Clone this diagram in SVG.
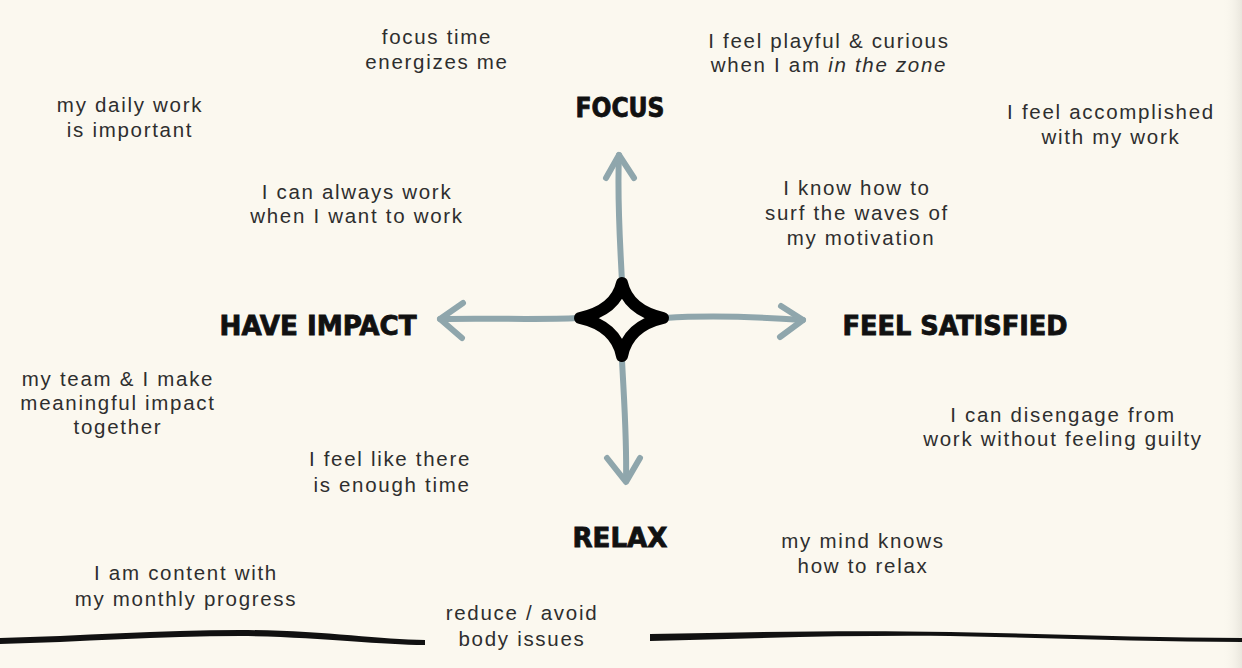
<svg xmlns="http://www.w3.org/2000/svg" width="1242" height="668" viewBox="0 0 1242 668">
<defs>
<style>
.t{font-family:"Liberation Sans",Arial,sans-serif;font-size:20.5px;fill:#2e2e2e;text-anchor:middle;letter-spacing:1.7px}
.h{font-family:"DejaVu Sans Condensed","DejaVu Sans","Liberation Sans",sans-serif;font-weight:bold;font-size:27px;fill:#111;text-anchor:middle;stroke:#111;stroke-width:0.8px}
.arr{fill:none;stroke:#8fa6ac;stroke-width:6;stroke-linecap:round;stroke-linejoin:round}
</style>
<linearGradient id="edge" x1="0" y1="0" x2="1" y2="0">
<stop offset="0" stop-color="#fbf8ef" stop-opacity="0"/>
<stop offset="1" stop-color="#e9e6dd"/>
</linearGradient>
</defs>
<rect width="1242" height="668" fill="#fbf8ef"/>
<rect x="1222" y="0" width="20" height="668" fill="url(#edge)"/>

<g id="connectors">
<path class="arr" d="M622,282 C620,240 617,200 619,155"/>
<path class="arr" d="M606,178 L619,155 L634,178"/>
<path class="arr" d="M665,318 C710,315 760,317 803,320"/>
<path class="arr" d="M781,306 L803,320 L780,337"/>
<path class="arr" d="M622,360 C624,400 627,440 626,480"/>
<path class="arr" d="M607,458 L626,482 L640,458"/>
<path class="arr" d="M578,318 C540,320 490,318 440,319"/>
<path class="arr" d="M463,303 L440,319 L462,338"/>
</g>

<g id="center">
<path d="M622,283 Q628,310 663,318 Q628,326 622,356 Q616,326 580,318 Q616,310 622,283 Z" fill="none" stroke="#000" stroke-width="12" stroke-linejoin="round"/>
</g>

<g id="ground">
<path d="M0,638 C80,636 160,630 240,630 C320,630 380,640 425,640 L425,645 C380,645 320,637 240,636 C160,636 80,642 0,644 Z" fill="#111"/>
<path d="M650,634 C760,632 850,630 950,632 C1050,634 1150,638 1242,638 L1242,642 C1150,642 1050,638 950,636 C850,635 760,638 650,641 Z" fill="#111"/>
</g>

<g id="focus"><text class="h" x="620" y="117" textLength="89" lengthAdjust="spacingAndGlyphs">FOCUS</text></g>
<g id="have-impact"><text class="h" x="318" y="335" textLength="197" lengthAdjust="spacingAndGlyphs">HAVE IMPACT</text></g>
<g id="feel-satisfied"><text class="h" x="955" y="335" textLength="225" lengthAdjust="spacingAndGlyphs">FEEL SATISFIED</text></g>
<g id="relax"><text class="h" x="620" y="547" textLength="95" lengthAdjust="spacingAndGlyphs">RELAX</text></g>

<g id="n1"><text class="t" x="437" y="44">focus time</text><text class="t" x="437" y="69">energizes me</text></g>
<g id="n2"><text class="t" x="829" y="48">I feel playful &amp; curious</text><text class="t" x="829" y="72">when I am <tspan font-style="italic">in the zone</tspan></text></g>
<g id="n3"><text class="t" x="130" y="112">my daily work</text><text class="t" x="130" y="137">is important</text></g>
<g id="n4"><text class="t" x="1111" y="119">I feel accomplished</text><text class="t" x="1111" y="144">with my work</text></g>
<g id="n5"><text class="t" x="357" y="199">I can always work</text><text class="t" x="357" y="223">when I want to work</text></g>
<g id="n6"><text class="t" x="857" y="195">I know how to</text><text class="t" x="857" y="220">surf the waves of</text><text class="t" x="861" y="245">my motivation</text></g>
<g id="n7"><text class="t" x="118" y="386">my team &amp; I make</text><text class="t" x="118" y="410">meaningful impact</text><text class="t" x="118" y="434">together</text></g>
<g id="n8"><text class="t" x="1063" y="422">I can disengage from</text><text class="t" x="1063" y="446">work without feeling guilty</text></g>
<g id="n9"><text class="t" x="390" y="466">I feel like there</text><text class="t" x="392" y="492">is enough time</text></g>
<g id="n10"><text class="t" x="863" y="548">my mind knows</text><text class="t" x="863" y="573">how to relax</text></g>
<g id="n11"><text class="t" x="186" y="580">I am content with</text><text class="t" x="186" y="606">my monthly progress</text></g>
<g id="n12"><text class="t" x="522" y="620">reduce / avoid</text><text class="t" x="522" y="646">body issues</text></g>
</svg>
